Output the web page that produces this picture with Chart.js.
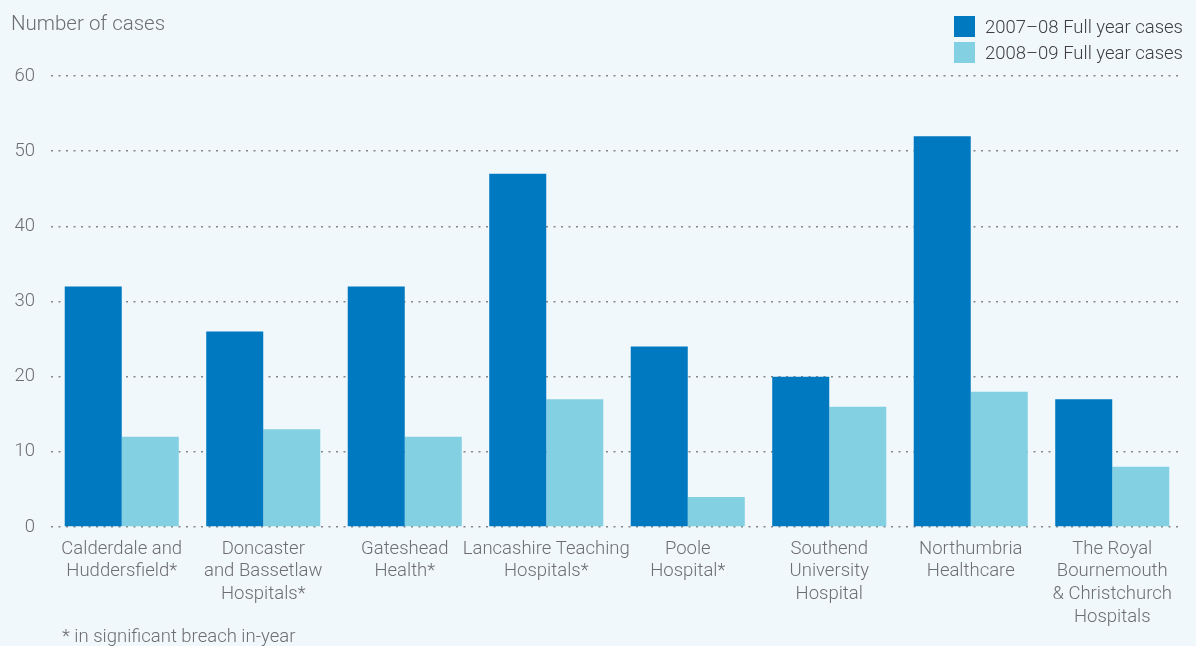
<!DOCTYPE html>
<html>
<head>
<meta charset="utf-8">
<script src="https://cdn.jsdelivr.net/npm/chart.js@4.4.1/dist/chart.umd.min.js"></script>
<style>
  body { margin: 0; background: #f1f8fb; font-family: Roboto, "Liberation Sans", sans-serif; font-weight: 300; }
  #wrap { position: relative; width: 1196px; height: 646px; overflow: hidden; }
  #titulo { position: absolute; left: 11px; top: 11px; font-size: 20.5px; color: #6d6e71; }
  #nota { position: absolute; left: 62px; top: 625px; font-size: 18.5px; color: #6d6e71; }
  #legenda { position: absolute; left: 954px; top: 16px; font-size: 18.5px; color: #3e3e40; }
  .item { display: flex; align-items: center; height: 21px; margin-bottom: 5px; }
  .caixa { width: 21px; height: 21px; margin-right: 10px; }
</style>
</head>
<body>
<div id="wrap">
  <canvas id="grafico" width="1196" height="646"></canvas>
  <div id="titulo">Number of cases</div>
  <div id="legenda"></div>
  <div id="nota">* in significant breach in-year</div>
</div>
<script>
/* Dados do gráfico */
const categorias = [
  ["Calderdale and", "Huddersfield*"],
  ["Doncaster", "and Bassetlaw", "Hospitals*"],
  ["Gateshead", "Health*"],
  ["Lancashire Teaching", "Hospitals*"],
  ["Poole", "Hospital*"],
  ["Southend", "University", "Hospital"],
  ["Northumbria", "Healthcare"],
  ["The Royal", "Bournemouth", "& Christchurch", "Hospitals"]
];
const series = ["2007\u201308 Full year cases", "2008\u201309 Full year cases"];
const casos0708 = [32, 26, 32, 47, 24, 20, 52, 17];
const casos0809 = [12, 13, 12, 17, 4, 16, 18, 8];
const ticksY = [0, 10, 20, 30, 40, 50, 60];
const cores = ["#0079c1", "#84d0e3"];

/* Legenda em HTML */
let $legenda = document.getElementById('legenda');
series.forEach((nome, i) => {
  $legenda.innerHTML += '<div class="item"><div class="caixa" style="background:' + cores[i] + '"></div>' + nome + '</div>';
});

const fonte = { family: 'Roboto, "Liberation Sans", sans-serif', size: 18.5, weight: 300, lineHeight: 1.22 };

var ctx = document.getElementById("grafico");
var myChart = new Chart(ctx, {
  type: 'bar',
  data: {
    labels: categorias,
    datasets: [
      { label: series[0], data: casos0708, backgroundColor: cores[0] },
      { label: series[1], data: casos0809, backgroundColor: cores[1] }
    ]
  },
  options: {
    responsive: false,
    animation: false,
    layout: { padding: { top: 76, right: 13, bottom: 0, left: 0 } },
    plugins: { legend: { display: false }, tooltip: { enabled: false } },
    datasets: { bar: { categoryPercentage: 0.806, barPercentage: 1.0 } },
    scales: {
      x: {
        grid: { display: false, drawTicks: false },
        border: { display: false },
        ticks: { color: '#6d6e71', font: fonte, padding: 11, maxRotation: 0, autoSkip: false },
        afterFit: s => { s.height = 119; }
      },
      y: {
        min: 0, max: 60,
        afterBuildTicks: s => { s.ticks = ticksY.map(v => ({ value: v })); },
        grid: { color: '#858585', lineWidth: 1.6, drawTicks: false },
        border: { display: false, dash: [2, 5.5] },
        ticks: { color: '#6d6e71', font: fonte, padding: 16 },
        afterFit: s => { s.width = 51; }
      }
    }
  }
});
</script>
</body>
</html>
